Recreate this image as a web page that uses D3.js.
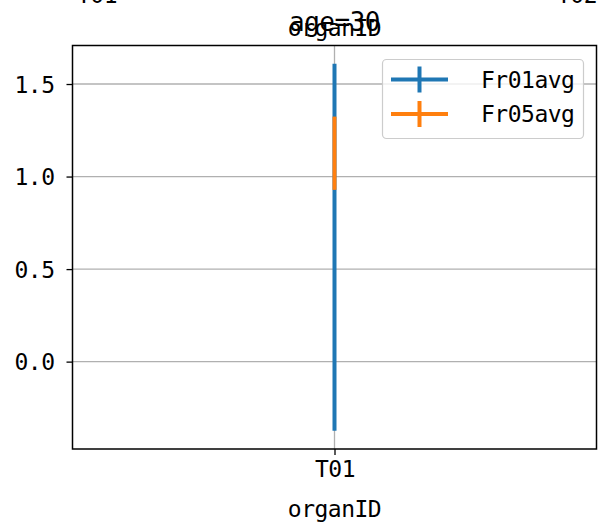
<!DOCTYPE html>
<html>
<head>
<meta charset="utf-8">
<script src="https://cdn.jsdelivr.net/npm/d3@7"></script>
<style>
  html, body { margin: 0; padding: 0; background: #fff; }
  svg { display: block; }
  text { font-family: "DejaVu Sans Mono", "Liberation Mono", monospace; fill: #000; letter-spacing: -0.5px; }
</style>
</head>
<body>
<svg id="chart" width="598" height="523"></svg>
<script>
// ---- data ----
const categories = ["T01"];
const seriesNames = ["Fr01avg", "Fr05avg"];
const seriesColors = ["#1f77b4", "#ff7f0e"];
const seriesMeans = [0.618, 1.126];   // centre of each error bar
const seriesErrors = [0.991, 0.198];  // half-length of each error bar
const yTicks = [0.0, 0.5, 1.0, 1.5];
const topCutLabels = ["T01", "T02"];
const titleText = "age=30";
const xLabelText = "organID";

// ---- layout ----
const W = 598, H = 523;
const plot = { left: 72.5, right: 596.5, top: 45.5, bottom: 449 };
const FS = 23;

const svg = d3.select("#chart");

// y domain like matplotlib autoscale (5% margins)
const lows = seriesMeans.map((m, i) => m - seriesErrors[i]);
const highs = seriesMeans.map((m, i) => m + seriesErrors[i]);
const lo = d3.min(lows), hi = d3.max(highs);
const pad = (hi - lo) * 0.05;
const y = d3.scaleLinear().domain([lo - pad, hi + pad]).range([plot.bottom, plot.top]);
const x = d3.scalePoint().domain(categories).range([plot.left, plot.right]).padding(0.5);

// grid
const grid = svg.append("g");
grid.selectAll("line.gy").data(yTicks).enter().append("line")
  .attr("x1", plot.left).attr("x2", plot.right)
  .attr("y1", d => y(d)).attr("y2", d => y(d))
  .attr("stroke", "#b0b0b0").attr("stroke-width", 1.3);
grid.selectAll("line.gx").data(categories).enter().append("line")
  .attr("x1", d => x(d)).attr("x2", d => x(d))
  .attr("y1", plot.top).attr("y2", plot.bottom)
  .attr("stroke", "#b0b0b0").attr("stroke-width", 1.3);

// error bars
categories.forEach(c => {
  seriesMeans.forEach((m, i) => {
    svg.append("line")
      .attr("x1", x(c)).attr("x2", x(c))
      .attr("y1", y(m - seriesErrors[i])).attr("y2", y(m + seriesErrors[i]))
      .attr("stroke", seriesColors[i]).attr("stroke-width", 4);
  });
});

// axes
const yAxis = d3.axisLeft(y).tickValues(yTicks).tickFormat(d3.format(".1f")).tickSize(6).tickPadding(12);
const gy = svg.append("g").attr("transform", `translate(${plot.left},0)`).call(yAxis);
gy.select(".domain").remove();
gy.selectAll(".tick line").attr("stroke", "#000").attr("stroke-width", 1.3);
gy.selectAll(".tick text").style("font-size", FS + "px").attr("fill", "#000").attr("dy", "0.36em");

const xAxis = d3.axisBottom(x).tickSize(6).tickPadding(6);
const gx = svg.append("g").attr("transform", `translate(0,${plot.bottom})`).call(xAxis);
gx.select(".domain").remove();
gx.selectAll(".tick line").attr("stroke", "#000").attr("stroke-width", 1.3);
gx.selectAll(".tick text").style("font-size", FS + "px").attr("fill", "#000");

// spines
svg.append("rect")
  .attr("x", plot.left).attr("y", plot.top)
  .attr("width", plot.right - plot.left).attr("height", plot.bottom - plot.top)
  .attr("fill", "none").attr("stroke", "#000").attr("stroke-width", 1.5);

// x label
svg.append("text").attr("x", (plot.left + plot.right) / 2).attr("y", 517)
  .attr("text-anchor", "middle").style("font-size", FS + "px").text(xLabelText);

// title and overlapping top label
svg.append("text").attr("x", (plot.left + plot.right) / 2).attr("y", 31)
  .attr("text-anchor", "middle").style("font-size", "26px").text(titleText);
svg.append("text").attr("x", (plot.left + plot.right) / 2).attr("y", 36)
  .attr("text-anchor", "middle").style("font-size", FS + "px").text(xLabelText);

// cut-off labels at very top
svg.append("text").attr("x", 97).attr("y", 3).attr("text-anchor", "middle")
  .style("font-size", FS + "px").text(topCutLabels[0]);
svg.append("text").attr("x", 577).attr("y", 3).attr("text-anchor", "middle")
  .style("font-size", FS + "px").text(topCutLabels[1]);

// legend
const lg = svg.append("g");
lg.append("rect").attr("x", 382.5).attr("y", 59.5).attr("width", 201).attr("height", 79)
  .attr("rx", 4).attr("fill", "#fff").attr("fill-opacity", 0.8)
  .attr("stroke", "#cccccc").attr("stroke-width", 1.2);
seriesNames.forEach((name, i) => {
  const cy = 79.5 + i * 34.5;
  lg.append("line").attr("x1", 391).attr("x2", 448).attr("y1", cy).attr("y2", cy)
    .attr("stroke", seriesColors[i]).attr("stroke-width", 4);
  lg.append("line").attr("x1", 419.5).attr("x2", 419.5).attr("y1", cy - 13).attr("y2", cy + 13)
    .attr("stroke", seriesColors[i]).attr("stroke-width", 4);
  lg.append("text").attr("x", 481).attr("y", cy + 8).style("font-size", FS + "px").text(name);
});
</script>
</body>
</html>
